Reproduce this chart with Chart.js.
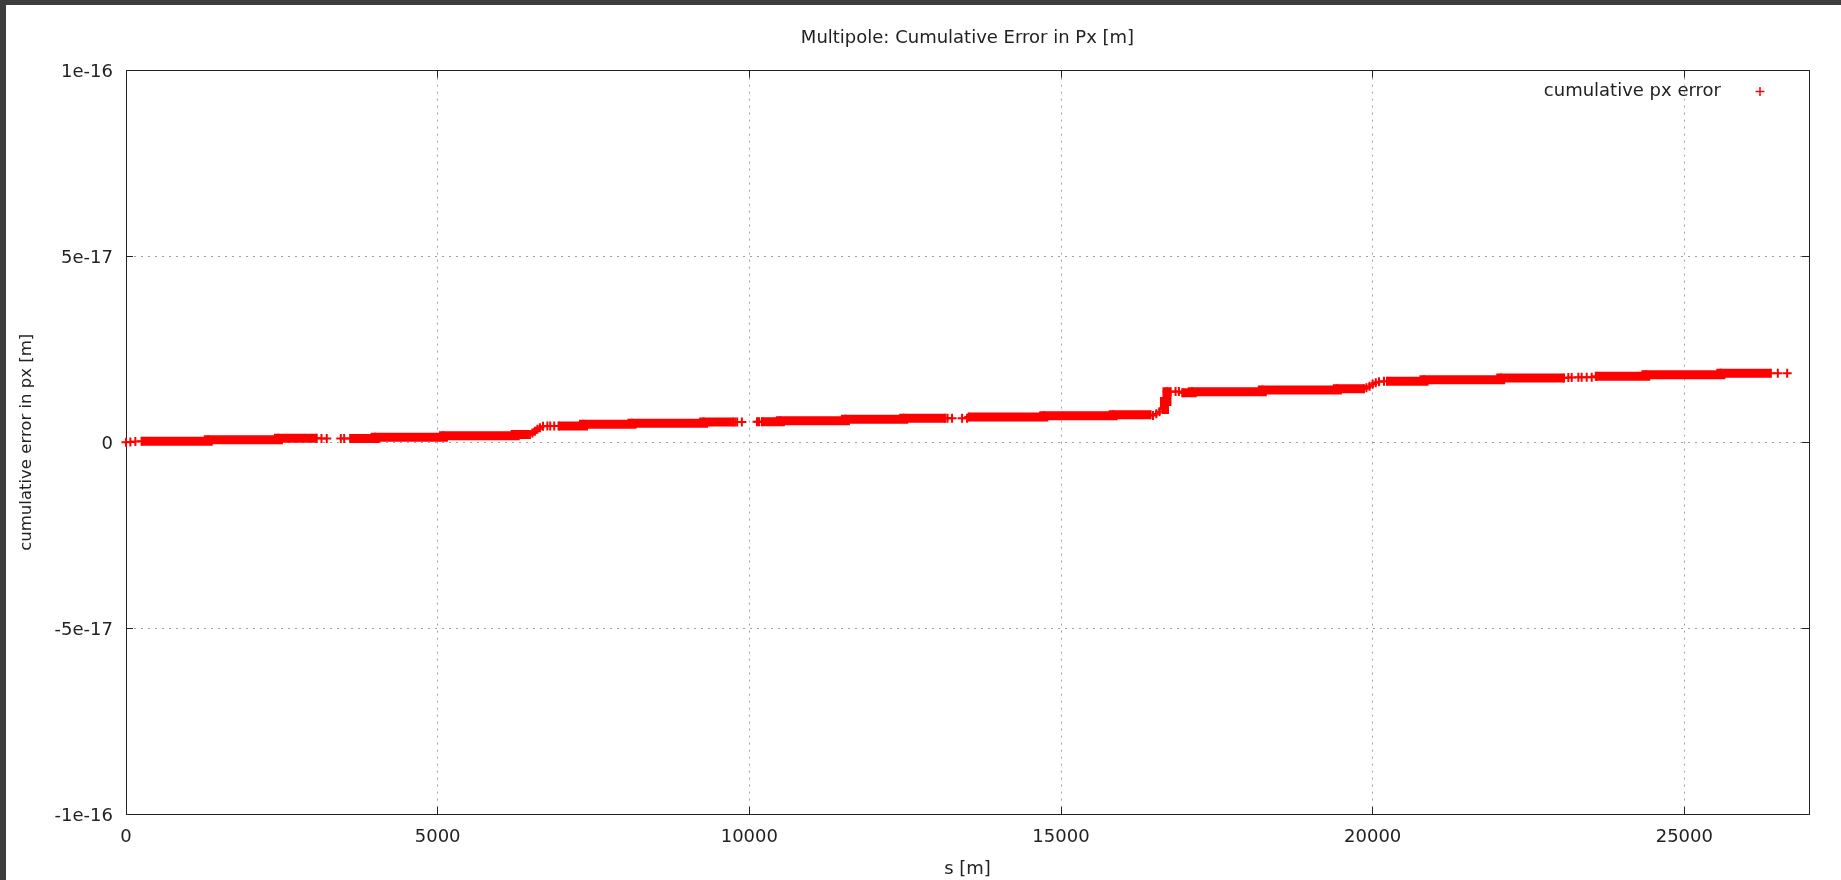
<!DOCTYPE html>
<html>
<head>
<meta charset="utf-8">
<title>Multipole: Cumulative Error in Px [m]</title>
<script src="https://cdn.jsdelivr.net/npm/chart.js@4.4.1/dist/chart.umd.min.js"></script>
<style>
    html, body { margin: 0; padding: 0; background: #3d3d3d; }
    .plot-frame { position: absolute; left: 6px; top: 5px; width: 1835px; height: 875px; background: #ffffff; }
</style>
</head>
<body>
<div class="plot-frame"><canvas id="px-error-chart"></canvas></div>
<script>
// Data =========================================================//

// s [m] along the ring, one entry per point; a null in pxError breaks the band
const sPositions = [
    0, 35, 70, 110, 150, 200,
    250, 1320, 2445, 3060, 3100,
    3136, 3180, 3221, 3330, 3446, 3470, 3500, 3550,
    3596, 3997, 5093, 6244, 6480, 6500,
    6520, 6540, 6560, 6580, 6600, 6620, 6640, 6665, 6690, 6725, 6760, 6783, 6806, 6838, 6870, 6900,
    6939, 7340, 8117, 9267, 9749, 9760,
    9775, 9790, 9805, 9840, 9880, 10000, 10123, 10140, 10155, 10180,
    10200, 10498, 11541, 12477, 13146, 13160,
    13180, 13215, 13252, 13330, 13413, 13450, 13493, 13505,
    13520, 14723, 15837, 16437, 16450,
    16475, 16500, 16530, 16555, 16580, 16605,
    16630, 16660, 16700, 16760, 16800,
    16838, 16865, 16891, 16920,
    16945, 17105, 18229, 19433, 19861, 19880,
    19900, 19925, 19950, 19975, 20000, 20025, 20050, 20075, 20102, 20140, 20182, 20205,
    20230, 20824, 22055, 23070, 23100,
    23139, 23165, 23193, 23250, 23300, 23325, 23353, 23390, 23434, 23475, 23514, 23545,
    23579, 24382, 25586, 26388, 26440,
    26500, 26575, 26650
];

// cumulative px error [m]
const pxError = [
    0, null, 0.1e-18, null, 0.2e-18, null,
    0.27e-18, 0.7e-18, 1.07e-18, 1.07e-18, null,
    1.0e-18, null, 1.0e-18, null, 1.0e-18, null, 1.0e-18, null,
    1.0e-18, 1.34e-18, 1.77e-18, 2.1e-18, 2.1e-18, null,
    2.5e-18, null, 3.0e-18, null, 3.5e-18, null, 3.9e-18, null, 4.3e-18, null, 4.4e-18, null, 4.4e-18, null, 4.4e-18, null,
    4.38e-18, 4.84e-18, 5.1e-18, 5.46e-18, 5.46e-18, null,
    5.46e-18, null, 5.46e-18, null, 5.46e-18, null, 5.5e-18, null, 5.5e-18, null,
    5.5e-18, 5.8e-18, 6.2e-18, 6.45e-18, 6.45e-18, null,
    6.5e-18, null, 6.5e-18, null, 6.5e-18, null, 6.5e-18, null,
    6.8e-18, 7.15e-18, 7.4e-18, 7.4e-18, null,
    7.2e-18, null, 7.7e-18, null, 8.2e-18, null,
    8.8e-18, 11.0e-18, 13.6e-18, 13.6e-18, null,
    13.7e-18, null, 13.7e-18, null,
    13.35e-18, 13.6e-18, 14.06e-18, 14.4e-18, 14.4e-18, null,
    14.7e-18, null, 15.1e-18, null, 15.6e-18, null, 16.0e-18, null, 16.3e-18, null, 16.4e-18, null,
    16.4e-18, 16.85e-18, 17.3e-18, 17.3e-18, null,
    17.4e-18, null, 17.4e-18, null, 17.5e-18, null, 17.5e-18, null, 17.5e-18, null, 17.5e-18, null,
    17.8e-18, 18.2e-18, 18.6e-18, 18.6e-18, null,
    18.6e-18, null, 18.6e-18
];

const xTicks = [0, 5000, 10000, 15000, 20000, 25000];
const yTicks = [-1e-16, -5e-17, 0, 5e-17, 1e-16];
const X_MIN = 0, X_MAX = 27000;
const Y_MIN = -1e-16, Y_MAX = 1e-16;

// Styles =========================================================//

const TEXT = '#222222';
const RED = '#ff0000';
const FRAME = '#222222';
const GRID = '#a0a0a0';
const FONT_SIZE = 18;

Chart.defaults.font.family = "'DejaVu Sans', sans-serif";
Chart.defaults.font.size = FONT_SIZE;
Chart.defaults.color = TEXT;

const useTicks = (values) => (scale) => {
    scale.ticks = values.map(v => ({ value: v }));
};

const formatY = (v) => {
    if (Math.abs(v) < 1e-30) return '0';
    return Number(v.toPrecision(3)).toExponential();
};

// gnuplot style: dotted grid, ticks pointing into the plot
const gridOpts = {
    color: GRID,
    lineWidth: 1,
    tickLength: -7,
    tickColor: FRAME,
    tickWidth: 1,
    tickBorderDash: []
};
const mirrorGrid = {
    drawOnChartArea: false,
    tickLength: -7,
    tickColor: FRAME,
    tickWidth: 1
};
const borderOpts = { display: true, color: FRAME, width: 1, dash: [2, 5] };

// legend drawn inside the plot, text first, marker after (like gnuplot key)
const insideKey = {
    id: 'insideKey',
    afterDatasetsDraw(chart) {
        const { ctx, chartArea } = chart;
        const ds = chart.data.datasets[0];
        const y = chartArea.top + 21;
        const markX = chartArea.right - 49;
        ctx.save();
        ctx.font = FONT_SIZE + "px 'DejaVu Sans'";
        ctx.fillStyle = TEXT;
        ctx.textAlign = 'right';
        ctx.textBaseline = 'middle';
        ctx.fillText(ds.label, chartArea.right - 88, y);
        ctx.strokeStyle = ds.pointBorderColor;
        ctx.lineWidth = 1.5;
        ctx.beginPath();
        ctx.moveTo(markX - 4.5, y);
        ctx.lineTo(markX + 4.5, y);
        ctx.moveTo(markX, y - 4.5);
        ctx.lineTo(markX, y + 4.5);
        ctx.stroke();
        ctx.restore();
    }
};

// Chart =========================================================//

const pxCanvas = document.getElementById('px-error-chart');

const pxData = {
    datasets: [{
        label: 'cumulative px error',
        data: sPositions.map((s, i) => ({ x: s, y: pxError[i] })),
        borderColor: RED,
        borderWidth: 9,
        borderCapStyle: 'butt',
        borderJoinStyle: 'miter',
        stepped: true,
        spanGaps: false,
        fill: false,
        pointStyle: 'cross',
        pointRadius: 4.5,
        pointBorderWidth: 2,
        pointBorderColor: RED,
        pointBackgroundColor: RED,
        clip: false
    }]
};

const pxConfig = {
    type: 'line',
    data: pxData,
    options: {
        responsive: true,
        maintainAspectRatio: false,
        animation: false,
        events: [],
        layout: { padding: { left: 0, right: 32, top: 0, bottom: 0 } },
        scales: {
            x: {
                type: 'linear',
                position: 'bottom',
                min: X_MIN,
                max: X_MAX,
                afterBuildTicks: useTicks(xTicks),
                afterFit: (scale) => { scale.height = 66; },
                ticks: { stepSize: 5000, padding: 20, maxRotation: 0, autoSkip: false, callback: (v) => String(v) },
                grid: gridOpts,
                border: borderOpts,
                title: { display: true, text: 's [m]', padding: { top: 0, bottom: 0 } }
            },
            x2: {
                type: 'linear',
                axis: 'x',
                position: 'top',
                min: X_MIN,
                max: X_MAX,
                afterBuildTicks: useTicks(xTicks),
                afterFit: (scale) => { scale.height = 0; },
                ticks: { stepSize: 5000, display: false },
                grid: mirrorGrid,
                border: { display: true, color: FRAME, width: 1 }
            },
            y: {
                type: 'linear',
                position: 'left',
                min: Y_MIN,
                max: Y_MAX,
                afterBuildTicks: useTicks(yTicks),
                afterFit: (scale) => { scale.width = 120; },
                ticks: { stepSize: 5e-17, padding: 20, labelOffset: 2, autoSkip: false, callback: formatY },
                grid: gridOpts,
                border: borderOpts,
                title: {
                    display: true,
                    text: 'cumulative error in px [m]',
                    font: { size: 16.5 },
                    padding: { top: 11, bottom: 0 }
                }
            },
            y2: {
                type: 'linear',
                axis: 'y',
                position: 'right',
                min: Y_MIN,
                max: Y_MAX,
                afterBuildTicks: useTicks(yTicks),
                afterFit: (scale) => { scale.width = 0; },
                ticks: { stepSize: 5e-17, display: false },
                grid: mirrorGrid,
                border: { display: true, color: FRAME, width: 1 }
            }
        },
        plugins: {
            legend: { display: false },
            tooltip: { enabled: false },
            title: {
                display: true,
                text: 'Multipole: Cumulative Error in Px [m]',
                fullSize: false,
                color: TEXT,
                font: { size: FONT_SIZE, weight: 'normal' },
                padding: { top: 23, bottom: 21 }
            }
        }
    },
    plugins: [insideKey]
};

const pxChart = new Chart(pxCanvas, pxConfig);
</script>
</body>
</html>
